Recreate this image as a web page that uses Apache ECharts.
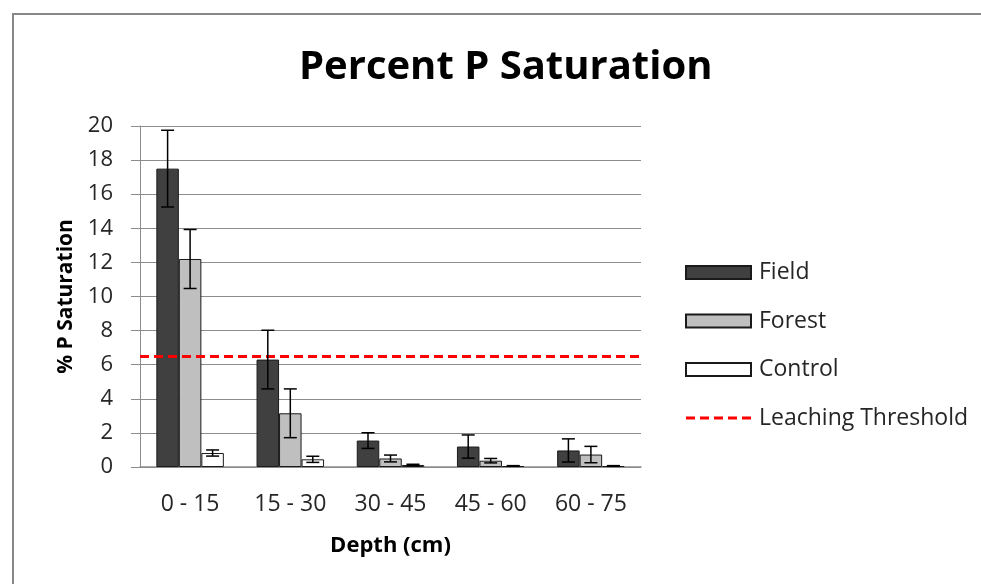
<!DOCTYPE html>
<html>
<head>
<meta charset="utf-8">
<script src="https://cdn.jsdelivr.net/npm/echarts@6/dist/echarts.min.js"></script>
<style>
  html, body { margin: 0; padding: 0; background: #fff; }
  #chart { width: 981px; height: 584px; }
</style>
</head>
<body>
<div id="chart"></div>
<script>
// Soil depth intervals (cm)
const depths = ['0 - 15', '15 - 30', '30 - 45', '45 - 60', '60 - 75'];

// Mean percent P saturation per land use
const fieldValues   = [17.5, 6.3, 1.55, 1.2, 0.97];
const forestValues  = [12.2, 3.15, 0.5, 0.37, 0.73];
const controlValues = [0.82, 0.45, 0.12, 0.06, 0.06];

// Error bar half-widths
const fieldErr   = [2.25, 1.72, 0.46, 0.68, 0.68];
const forestErr  = [1.73, 1.43, 0.2, 0.13, 0.48];
const controlErr = [0.18, 0.18, 0.04, 0.02, 0.02];

// Leaching threshold (% P saturation)
const thresholdValue = [6.5];

const yTicks = { min: 0, max: 20, interval: 2 };

const FONT = '"Open Sans", "Noto Sans", sans-serif';
const barW = 22.5;
const barOffsets = [-barW, 0, barW];
const thresholdLine = { color: '#ff0000', width: 3, type: [9, 5] };
// Five red dashes for the threshold entry in the legend
const dashedIcon = 'path://M0,0h9v3h-9z M14,0h9v3h-9z M28,0h9v3h-9z M42,0h9v3h-9z M56,0h9v3h-9z';

function errorSeries(name, values, errs, idx) {
  return {
    name: name + ' error',
    type: 'custom',
    z: 5,
    silent: true,
    data: values.map((v, i) => [i, v, errs[i]]),
    renderItem: function (params, api) {
      const cat = api.value(0);
      const v = api.value(1);
      const e = api.value(2);
      const top = api.coord([cat, v + e]);
      const bot = api.coord([cat, v - e]);
      const x = top[0] + barOffsets[idx];
      const cap = 6.5;
      const style = { stroke: '#000', lineWidth: 1.5 };
      return {
        type: 'group',
        children: [
          { type: 'line', shape: { x1: x, y1: top[1], x2: x, y2: bot[1] }, style: style },
          { type: 'line', shape: { x1: x - cap, y1: top[1], x2: x + cap, y2: top[1] }, style: style },
          { type: 'line', shape: { x1: x - cap, y1: bot[1], x2: x + cap, y2: bot[1] }, style: style }
        ]
      };
    }
  };
}

function barSeries(name, values, color) {
  return {
    name: name,
    type: 'bar',
    data: values,
    barWidth: barW,
    barGap: '0%',
    itemStyle: { color: color, borderColor: '#1a1a1a', borderWidth: 1 }
  };
}

const chart = echarts.init(document.getElementById('chart'), null, { renderer: 'canvas' });

chart.setOption({
  animation: false,
  backgroundColor: '#fff',
  graphic: [{
    type: 'rect',
    shape: { x: 13, y: 14, width: 1000, height: 620 },
    style: { fill: 'none', stroke: '#878787', lineWidth: 2 },
    silent: true
  }],
  title: {
    text: 'Percent P Saturation',
    left: 294,
    top: 43,
    textStyle: { fontFamily: FONT, fontSize: 40, fontWeight: 'bold', color: '#000' }
  },
  legend: {
    orient: 'vertical',
    left: 680,
    top: 256,
    itemWidth: 65,
    itemHeight: 13,
    itemGap: 25.5,
    data: [
      { name: 'Field', icon: 'rect' },
      { name: 'Forest', icon: 'rect' },
      { name: 'Control', icon: 'rect' },
      { name: 'Leaching Threshold', icon: dashedIcon, itemStyle: { color: '#ff0000', borderWidth: 0 } }
    ],
    textStyle: { fontFamily: FONT, fontSize: 23, color: '#262626', padding: [0, 0, 0, 3] }
  },
  grid: { left: 140, right: 340, top: 126, bottom: 117 },
  xAxis: {
    type: 'category',
    data: depths,
    name: 'Depth (cm)',
    nameLocation: 'middle',
    nameGap: 68,
    nameTextStyle: { fontFamily: FONT, fontSize: 22, fontWeight: 'bold', color: '#000' },
    axisLine: { lineStyle: { color: '#8c8c8c', width: 1.5 } },
    axisTick: { show: false },
    axisLabel: { margin: 26, fontFamily: FONT, fontSize: 23, color: '#262626' }
  },
  yAxis: {
    type: 'value',
    min: yTicks.min,
    max: yTicks.max,
    interval: yTicks.interval,
    name: '% P Saturation',
    nameLocation: 'middle',
    nameGap: 63,
    nameTextStyle: { fontFamily: FONT, fontSize: 21, fontWeight: 'bold', color: '#000' },
    axisLine: { show: true, lineStyle: { color: '#8c8c8c', width: 1 } },
    axisTick: { show: true, length: 9, lineStyle: { color: '#8c8c8c' } },
    splitLine: { lineStyle: { color: '#8c8c8c', width: 1 } },
    axisLabel: { margin: 27, fontFamily: FONT, fontSize: 22, color: '#262626' }
  },
  series: [
    barSeries('Field', fieldValues, '#404040'),
    barSeries('Forest', forestValues, '#bfbfbf'),
    barSeries('Control', controlValues, '#ffffff'),
    {
      name: 'Leaching Threshold',
      type: 'line',
      data: [],
      symbol: 'none',
      itemStyle: { color: '#ff0000' },
      lineStyle: thresholdLine,
      markLine: {
        silent: true,
        symbol: 'none',
        label: { show: false },
        lineStyle: thresholdLine,
        data: [{ yAxis: thresholdValue[0] }]
      }
    },
    errorSeries('Field', fieldValues, fieldErr, 0),
    errorSeries('Forest', forestValues, forestErr, 1),
    errorSeries('Control', controlValues, controlErr, 2)
  ]
});
</script>
</body>
</html>
